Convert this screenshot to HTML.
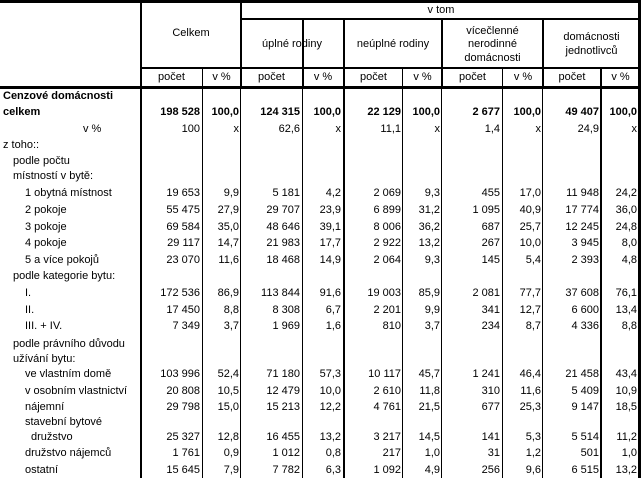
<!DOCTYPE html>
<html><head><meta charset="utf-8">
<style>
body{margin:0;background:#fff;}
#t{position:relative;width:641px;height:478px;overflow:hidden;font-family:"Liberation Sans",Arial,sans-serif;font-size:11px;color:#000;}
.l{position:absolute;background:#000;}
.tx{position:absolute;white-space:nowrap;line-height:13px;}
.r{text-align:right;}
.c{text-align:center;}
.b{font-weight:bold;}
</style></head><body>
<div id="t"></div>
<script>
const colRights=[200,239,300,341,401,440,500,541,599,637];
const rowLabels=[
["Cenzové domácnosti",0,97,"b"],["celkem",0,113,"b"],["v %",80,130,""],["z toho::",0,146,""],
["podle počtu",10,162,""],["místností v bytě:",10,177,""],["1 obytná místnost",22,194,""],["2 pokoje",22,211,""],["3 pokoje",22,228,""],
["4 pokoje",22,244,""],["5 a více pokojů",22,261,""],["podle kategorie bytu:",10,277,""],["I.",22,294,""],["II.",22,311,""],["III. + IV.",22,327,""],
["podle právního důvodu",10,345,""],["užívání bytu:",10,360,""],["ve vlastním domě",22,375,""],["v osobním vlastnictví",22,392,""],["nájemní",22,408,""],
["stavební bytové",22,423,""],["družstvo",28,438,""],["družstvo nájemců",22,454,""],["ostatní",22,471,""]];
const rowValues={
1:["198 528","100,0","124 315","100,0","22 129","100,0","2 677","100,0","49 407","100,0"],
2:["100","x","62,6","x","11,1","x","1,4","x","24,9","x"],
6:["19 653","9,9","5 181","4,2","2 069","9,3","455","17,0","11 948","24,2"],
7:["55 475","27,9","29 707","23,9","6 899","31,2","1 095","40,9","17 774","36,0"],
8:["69 584","35,0","48 646","39,1","8 006","36,2","687","25,7","12 245","24,8"],
9:["29 117","14,7","21 983","17,7","2 922","13,2","267","10,0","3 945","8,0"],
10:["23 070","11,6","18 468","14,9","2 064","9,3","145","5,4","2 393","4,8"],
12:["172 536","86,9","113 844","91,6","19 003","85,9","2 081","77,7","37 608","76,1"],
13:["17 450","8,8","8 308","6,7","2 201","9,9","341","12,7","6 600","13,4"],
14:["7 349","3,7","1 969","1,6","810","3,7","234","8,7","4 336","8,8"],
17:["103 996","52,4","71 180","57,3","10 117","45,7","1 241","46,4","21 458","43,4"],
18:["20 808","10,5","12 479","10,0","2 610","11,8","310","11,6","5 409","10,9"],
19:["29 798","15,0","15 213","12,2","4 761","21,5","677","25,3","9 147","18,5"],
21:["25 327","12,8","16 455","13,2","3 217","14,5","141","5,3","5 514","11,2"],
22:["1 761","0,9","1 012","0,8","217","1,0","31","1,2","501","1,0"],
23:["15 645","7,9","7 782","6,3","1 092","4,9","256","9,6","6 515","13,2"]};
const T=document.getElementById('t');
function line(x,y,w,h,n){const d=document.createElement('div');d.className='l';d.style.cssText=`left:${x}px;top:${y}px;width:${w}px;height:${h}px`;


T.appendChild(d);}
function text(s,x,y,cls,w,n){const d=document.createElement('div');d.className='tx '+cls;d.textContent=s;
if(cls.includes('r')){d.style.right=(641-x)+'px';}else if(cls.includes('c')){d.style.left=x+'px';d.style.width=w+'px';}else d.style.left=x+'px';
d.style.top=(y-7)+'px';


T.appendChild(d);}
// horizontal lines
line(0,0,641,3,'top-border');
line(241,18,400,2,'v-tom-rule');
line(141,67,500,2,'subheader-rule');
line(0,86,641,3,'header-bottom-rule');
// vertical lines
line(140,0,2,478,'col-rule-celkem');
line(240,0,2,88,'col-rule-vtom-head');line(240,88,1,390,'col-rule');
line(202,67,1,411,'col-rule');
line(302,18,2,70,'col-rule-head');line(302,88,1,390,'col-rule');
line(343,18,2,460,'col-rule-thick');
line(402,67,1,411,'col-rule');
line(441,18,2,70,'col-rule-head');line(441,88,1,390,'col-rule');
line(502,67,1,411,'col-rule');
line(542,18,2,70,'col-rule-head');line(542,88,1,390,'col-rule');
line(600,67,2,411,'col-rule-thick');
line(638,0,3,478,'right-border');
// headers
text('Celkem',141,34,'c',100,'celkem-header');
text('v tom',241,11,'c',400,'v-tom-header');
text('úplné rodiny',241,45,'c',102,'uplne-rodiny-header');
text('neúplné rodiny',344,45,'c',98,'neuplne-rodiny-header');
text('vícečlenné',442,32,'c',101,'vicecl-header');
text('nerodinné',442,45,'c',101,'vicecl-header-2');
text('domácnosti',442,59,'c',101,'vicecl-header-3');
text('domácnosti',543,38,'c',97,'jednotlivcu-header');
text('jednotlivců',543,52,'c',97,'jednotlivcu-header-2');
const subL=[141,202,241,302,344,403,442,503,543,601,640];
for(let i=0;i<10;i++){text(i%2?'v %':'počet',subL[i],78,'c',subL[i+1]-subL[i],i%2?'pct-subheader':'count-subheader');}
// body
rowLabels.forEach((r,i)=>{text(r[0],3+r[1],r[2],r[3],0,'row-label');
const v=rowValues[i];if(v){v.forEach((s,j)=>text(s,colRights[j],r[2],'r '+r[3],0,'cell-value'));}});
</script>
</body></html>
